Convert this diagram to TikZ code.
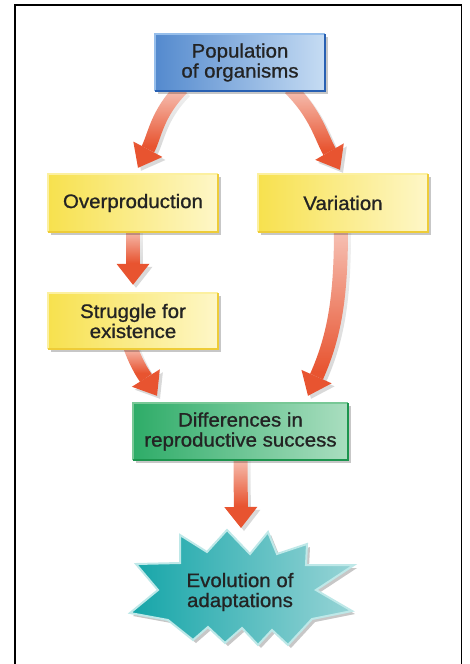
\documentclass[tikz,border=0pt]{standalone}
\usepackage{fontspec}
\setmainfont{Liberation Sans}[FakeStretch=1.05,FakeBold=1.0]
\usetikzlibrary{arrows.meta,calc,shadows,fadings}

\definecolor{txt}{RGB}{35,35,35}
\definecolor{bluel}{RGB}{84,138,206}
\definecolor{bluer}{RGB}{198,220,243}
\definecolor{bluedk}{RGB}{40,96,178}
\definecolor{bluelt}{RGB}{150,190,235}
\definecolor{yell}{RGB}{247,225,78}
\definecolor{yelr}{RGB}{254,247,200}
\definecolor{yeldk}{RGB}{238,204,56}
\definecolor{yellt}{RGB}{252,240,160}
\definecolor{grnl}{RGB}{46,172,104}
\definecolor{grnr}{RGB}{170,222,192}
\definecolor{grndk}{RGB}{28,148,78}
\definecolor{grnlt}{RGB}{120,200,150}
\definecolor{teall}{RGB}{20,165,168}
\definecolor{tealr}{RGB}{152,212,214}
\definecolor{tealedge}{RGB}{190,232,232}
\definecolor{arr}{RGB}{232,84,48}

\tikzfading[name=tailfade, top color=transparent!35, bottom color=transparent!100]

\pgfdeclarelayer{bg}
\pgfdeclarelayer{mid}

\newcommand\bevel[3]{%
  \draw[line width=1.5pt,#2] (#1.south west) -- (#1.north west) -- (#1.north east);
  \draw[line width=2.5pt,#3] (#1.south west) -- (#1.south east) -- (#1.north east);}

\begin{document}
\begin{tikzpicture}[x=1pt,y=1pt,
  box/.style={rectangle, inner sep=0pt, align=center, text=txt,
    font=\fontsize{19.5}{20}\selectfont,
    drop shadow={shadow xshift=3pt,shadow yshift=-3pt,opacity=0.22,fill=black}},
  bluebox/.style={box, left color=bluel, right color=bluer},
  yellowbox/.style={box, left color=yell, right color=yelr},
  greenbox/.style={box, left color=grnl, right color=grnr},
  fatarrow/.style={line width=14pt, draw=arr,
    -{Triangle[length=21pt,width=33pt,line width=0pt]}},
  arrshadow/.style={line width=14pt, draw=black, opacity=0.15,
    -{Triangle[length=21pt,width=33pt,line width=0pt]},
    transform canvas={shift={(3pt,-3pt)}}},
  tailcover/.style={white, path fading=tailfade}
]
\pgfsetlayers{bg,mid,main}
\path[use as bounding box] (0,0) rectangle (469,-664);

% boxes
\node[bluebox, minimum width=170pt, minimum height=57pt] (pop) at (240,-62.5) {Population\\of organisms};
\node[yellowbox, minimum width=170pt, minimum height=58pt] (over) at (133,-203) {Overproduction};
\node[yellowbox, minimum width=170pt, minimum height=58pt] (var) at (343,-203) {Variation};
\node[yellowbox, minimum width=170pt, minimum height=56pt] (strug) at (133,-321) {Struggle for\\existence};
\node[greenbox, minimum width=215pt, minimum height=57pt] (diff) at (240.5,-431.5) {Differences in\\reproductive success};
\node[align=center, text=txt, inner sep=0pt, font=\fontsize{19.5}{20}\selectfont] (star) at (240,-592) {Evolution of\\adaptations};

\bevel{pop}{bluelt}{bluedk}
\bevel{over}{yellt}{yeldk}
\bevel{var}{yellt}{yeldk}
\bevel{strug}{yellt}{yeldk}
\bevel{diff}{grnlt}{grndk}

% arrow end points
\coordinate (a1s) at ($(pop.south)+(-58,3)$);
\coordinate (a1t) at ($(over.north)+(5,6)$);
\coordinate (a2s) at ($(pop.south)+(50,3)$);
\coordinate (a2t) at ($(var.north)+(-3,4)$);
\coordinate (a3s) at ($(over.south)+(0,3)$);
\coordinate (a3t) at ($(strug.north)+(0,8)$);
\coordinate (a4s) at ($(strug.south)+(-3,3)$);
\coordinate (a4t) at ($(diff.north)+(-83.5,7)$);
\coordinate (a5s) at ($(var.south)+(-2,3)$);
\coordinate (a5t) at ($(diff.north)+(67.5,7)$);
\coordinate (a6s) at ($(diff.south)+(0,3)$);
\coordinate (a6t) at ($(star.center)+(1,64)$);

\begin{pgfonlayer}{bg}
  \draw[arrshadow] (a1s) to[out=225,in=62] (a1t);
  \draw[arrshadow] (a2s) to[out=-45,in=120] (a2t);
  \draw[arrshadow] (a3s) -- (a3t);
  \draw[arrshadow] (a4s) to[out=-70,in=122] (a4t);
  \draw[arrshadow] (a5s) to[out=-90,in=66] (a5t);
  \draw[arrshadow] (a6s) -- (a6t);
  \draw[fatarrow] (a1s) to[out=225,in=62] (a1t);
  \draw[fatarrow] (a2s) to[out=-45,in=120] (a2t);
  \draw[fatarrow] (a3s) -- (a3t);
  \draw[fatarrow] (a4s) to[out=-70,in=122] (a4t);
  \draw[fatarrow] (a5s) to[out=-90,in=66] (a5t);
  \draw[fatarrow] (a6s) -- (a6t);
  % lighter tails
  \fill[tailcover] (118,-88) rectangle (205,-146);
  \fill[tailcover] (272,-88) rectangle (356,-150);
  \fill[tailcover] (116,-229) rectangle (152,-263);
  \fill[tailcover] (112,-346) rectangle (162,-373);
  \fill[tailcover] (290,-229) rectangle (364,-372);
  \fill[tailcover] (222,-457) rectangle (262,-506);
\end{pgfonlayer}

\begin{pgfonlayer}{mid}
\begin{scope}[shift={(star.center)}, yshift=2pt]
  \fill[black, opacity=0.22, transform canvas={shift={(3pt,-3pt)}}]
    (-104,26) -- (-60,27) -- (-60,55) -- (-33,38) -- (-13,60) -- (10,36) -- (28,58) -- (37,36)
    -- (67,46) -- (66,25) -- (114,25) -- (76,0) -- (112,-21) -- (72,-29) -- (48,-55) -- (32,-40)
    -- (18,-55) -- (2,-38) -- (-15,-53) -- (-32,-37) -- (-47,-50) -- (-72,-30) -- (-110,-23)
    -- (-82,0) -- cycle;
  \path[left color=teall, right color=tealr, draw=tealedge, line width=2pt, line join=miter]
    (-104,26) -- (-60,27) -- (-60,55) -- (-33,38) -- (-13,60) -- (10,36) -- (28,58) -- (37,36)
    -- (67,46) -- (66,25) -- (114,25) -- (76,0) -- (112,-21) -- (72,-29) -- (48,-55) -- (32,-40)
    -- (18,-55) -- (2,-38) -- (-15,-53) -- (-32,-37) -- (-47,-50) -- (-72,-30) -- (-110,-23)
    -- (-82,0) -- cycle;
\end{scope}
\end{pgfonlayer}

% frame
\draw[line width=1.5pt] (15,-664) -- (15,-5) -- (461.5,-5) -- (461.5,-664);
\end{tikzpicture}
\end{document}
